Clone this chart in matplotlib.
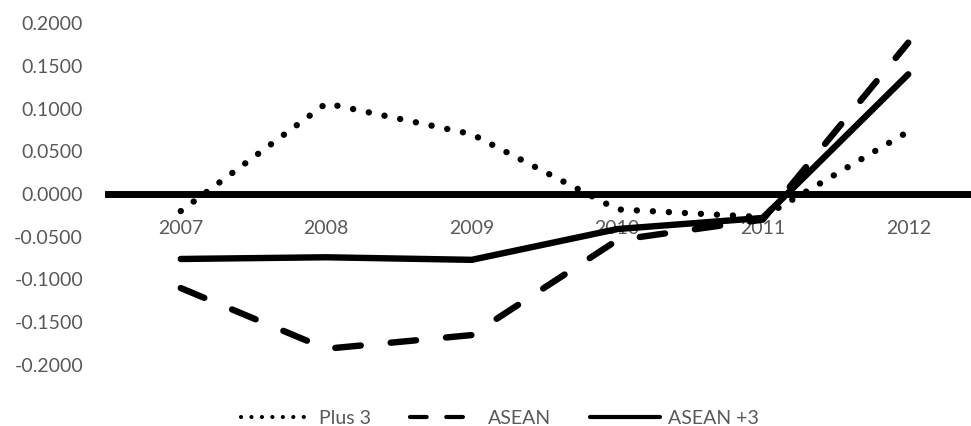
import matplotlib.pyplot as plt
import numpy as np

years = ["2007", "2008", "2009", "2010", "2011", "2012"]
plus3 = [-0.020, 0.106, 0.070, -0.018, -0.027, 0.073]
asean = [-0.110, -0.181, -0.165, -0.054, -0.030, 0.177]
asean3 = [-0.076, -0.074, -0.077, -0.041, -0.028, 0.140]
yticks = [-0.2, -0.15, -0.1, -0.05, 0.0, 0.05, 0.1, 0.15, 0.2]

plt.rcParams['font.family'] = ['Lato', 'DejaVu Sans']
grey = "#595959"

fig = plt.figure(figsize=(9.71, 4.26), dpi=100)
ax = fig.add_axes([108/971, 61/426, 873/971, 342/426])

x = np.arange(len(years))
lw = 4.6
ax.plot(x, plus3, color="black", lw=lw, linestyle=(0, (0.01, 2.5)),
        dash_capstyle="round", solid_capstyle="round", label="Plus 3", zorder=3, clip_on=False)
ax.plot(x, asean, color="black", lw=lw, linestyle=(0, (4.0, 4.7)),
        dash_capstyle="round", solid_capstyle="round", label="ASEAN", zorder=3, clip_on=False)
ax.plot(x, asean3, color="black", lw=lw, solid_capstyle="round",
        solid_joinstyle="round", label="ASEAN +3", zorder=3, clip_on=False)

ax.set_xlim(-0.5, len(years) - 0.5)
ax.set_ylim(-0.2, 0.2)
ax.set_yticks(yticks)
ax.set_yticklabels(["%.4f" % v for v in yticks])
ax.set_xticks(x)
ax.set_xticklabels(years)

for s in ["top", "right", "left"]:
    ax.spines[s].set_visible(False)
ax.spines["bottom"].set_position(("data", 0))
ax.spines["bottom"].set_linewidth(5)
ax.spines["bottom"].set_color("black")
ax.spines["bottom"].set_zorder(2)

ax.tick_params(axis="y", length=0, pad=18, labelsize=14, labelcolor=grey)
ax.tick_params(axis="x", length=0, pad=19, labelsize=14, labelcolor=grey)

leg = fig.legend(loc="center", bbox_to_anchor=(500/971, 8/426), ncol=3, frameon=False,
                 fontsize=14, handlelength=3.6, handletextpad=0.4, columnspacing=2.0,
                 labelcolor=grey)
for line in leg.get_lines():
    line.set_linewidth(3)

fig.savefig("out.png", dpi=100)
